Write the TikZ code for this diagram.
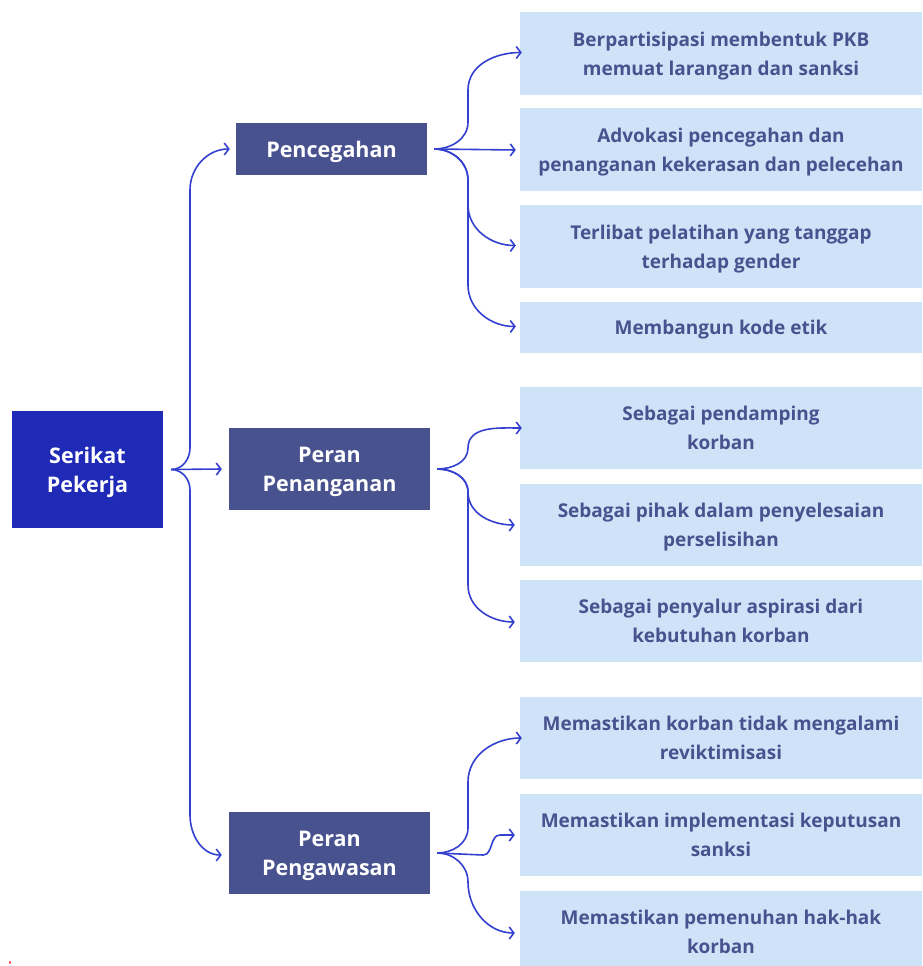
\documentclass[tikz,border=0pt]{standalone}
\usepackage{fontspec}
\setmainfont{Open Sans}
\usetikzlibrary{arrows.meta,calc}
\definecolor{rootblue}{HTML}{1F2AB7}
\definecolor{midblue}{HTML}{48528E}
\definecolor{leafblue}{HTML}{CFE3F8}
\definecolor{linkblue}{HTML}{3440CF}
\tikzset{
  boxbase/.style={align=center, inner sep=0pt, text depth=-4pt},
  rootbox/.style={boxbase, fill=rootblue, text=white, font=\bfseries\fontsize{21.5}{29}\selectfont,
    minimum width=151pt, minimum height=117pt},
  midbox/.style={boxbase, fill=midblue, text=white, font=\bfseries\fontsize{21.5}{29}\selectfont,
    minimum width=201pt, minimum height=82pt},
  leafbox/.style={boxbase, fill=leafblue, text=midblue, font=\bfseries\fontsize{19}{29}\selectfont,
    minimum width=402pt, minimum height=83pt},
  link/.style={draw=linkblue, line width=1.6pt,
    -{Straight Barb[length=4.5pt,width=12pt,line width=1.6pt]}},
}
\begin{document}
\begin{tikzpicture}[x=1pt,y=-1pt]
\useasboundingbox (0,0) rectangle (922,966);
\fill[white] (0,0) rectangle (922,966);

% root and the three roles
\node[rootbox] (sp) at (87.5,469.5) {Serikat\\Pekerja};
\node[midbox, minimum width=191pt, minimum height=52pt] (pc) at (331.5,149) {Pencegahan};
\node[midbox] (ph) at (329.5,469) {Peran\\Penanganan};
\node[midbox] (pw) at (329.5,853) {Peran\\Pengawasan};

% activities
\node[leafbox] (b1) at (721,53.5) {Berpartisipasi membentuk PKB\\memuat larangan dan sanksi};
\node[leafbox] (b2) at (721,149.5) {Advokasi pencegahan dan\\penanganan kekerasan dan pelecehan};
\node[leafbox] (b3) at (721,246.5) {Terlibat pelatihan yang tanggap\\terhadap gender};
\node[leafbox, minimum height=51pt] (b4) at (721,327.5) {Membangun kode etik};
\node[leafbox, minimum height=82pt] (b5) at (721,428) {Sebagai pendamping\\korban};
\node[leafbox, minimum height=82pt] (b6) at (721,525) {Sebagai pihak dalam penyelesaian\\perselisihan};
\node[leafbox, minimum height=82pt] (b7) at (721,621) {Sebagai penyalur aspirasi dari\\kebutuhan korban};
\node[leafbox, minimum height=82pt] (b8) at (721,738) {Memastikan korban tidak mengalami\\reviktimisasi};
\node[leafbox, minimum height=82pt] (b9) at (721,835) {Memastikan implementasi keputusan\\sanksi};
\node[leafbox, minimum height=82pt] (b10) at (721,932) {Memastikan pemenuhan hak-hak\\korban};

% branch points
\coordinate (r0) at ($(sp.east)+(8,0)$);
\coordinate (c0) at ($(pc.east)+(7,0)$);
\coordinate (h0) at ($(ph.east)+(7,0)$);
\coordinate (w0) at ($(pw.east)+(7,0)$);

% root to roles
\draw[link] (r0) -- ($(ph.west)+(-7,0)$);
\draw[link] (r0) to[out=0,in=-90] (190,448) -- (190,190)
  to[out=90,in=180] ($(pc.west)+(-6,0)$);
\draw[link] (r0) to[out=0,in=90] (190,490) -- (190,815)
  to[out=-90,in=180] ($(pw.west)+(-7,2)$);

% prevention
\draw[link] (c0) to[out=0,in=-90] (468,122) -- (468,90)
  to[out=90,in=180] ($(b1.west)+(2,-1)$);
\draw[link] (c0) -- ($(b2.west)+(-4,0.5)$);
\draw[link] (c0) to[out=0,in=90] (468,180) -- (468,205)
  to[out=-90,in=180] ($(b3.west)+(-4,-1)$);
\draw[link] (c0) to[out=0,in=90] (468,180) -- (468,285)
  to[out=-90,in=180] ($(b4.west)+(-4,-1)$);

% handling
\draw[link] (h0) to[out=0,in=-90] (468,448)
  to[out=90,in=180] ($(b5.west)+(2,0)$);
\draw[link] (h0) to[out=0,in=90] (468,492)
  to[out=-90,in=180] ($(b6.west)+(-5,0)$);
\draw[link] (h0) to[out=0,in=90] (468,492) -- (468,585)
  to[out=-90,in=180] ($(b7.west)+(-5,1)$);

% supervision
\draw[link] (w0) to[out=0,in=-90] (468,828) -- (468,782)
  to[out=90,in=180] ($(b8.west)+(2,0)$);
\draw[link] (w0) -- (483,855) to[out=0,in=180] (500,835) -- ($(b9.west)+(-5,0)$);
\draw[link] (w0) to[out=0,in=90] (468,882)
  to[out=-90,in=180] ($(b10.west)+(-5,1)$);

% small red mark in the lower left corner
\fill[red!60] (9,961) rectangle (11,964);
\end{tikzpicture}
\end{document}
